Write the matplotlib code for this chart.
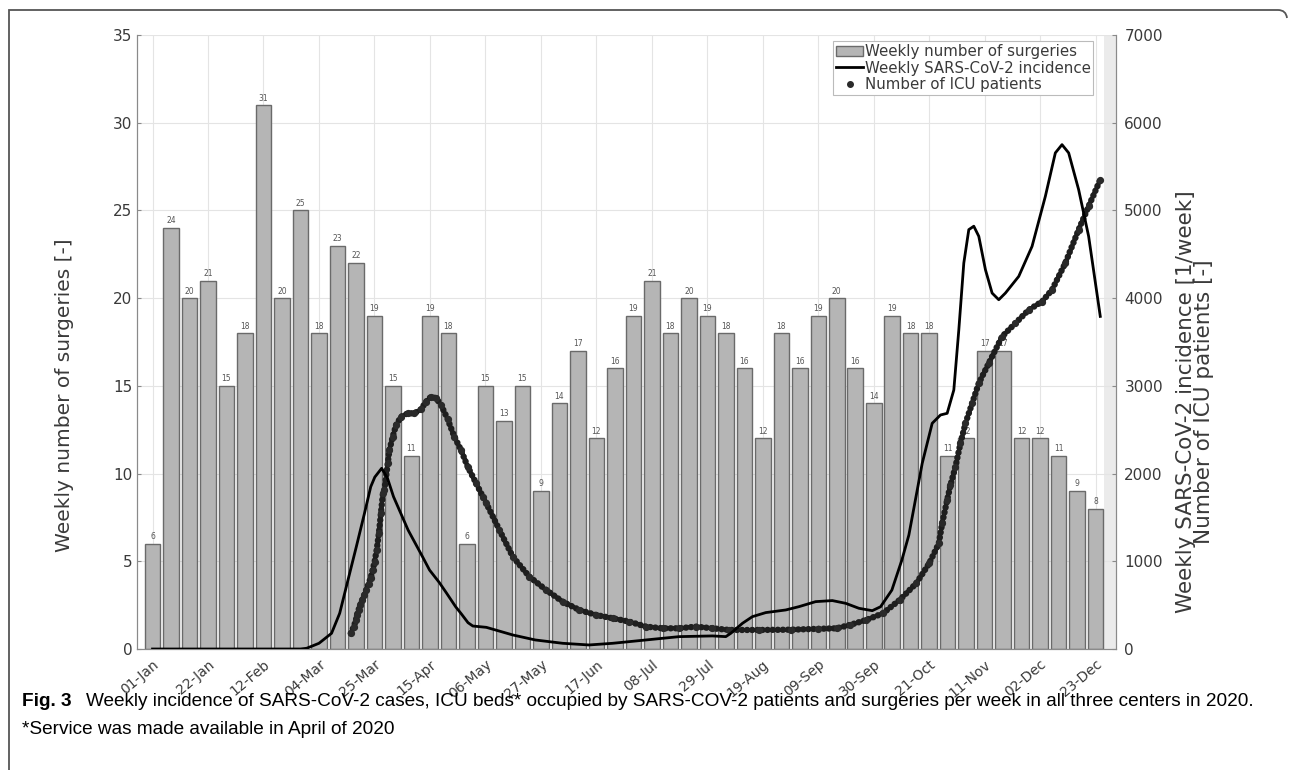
import numpy as np
import matplotlib.pyplot as plt
from matplotlib.patches import Patch, PathPatch
from matplotlib.lines import Line2D
from matplotlib.path import Path

# weekly surgeries, 52 weeks of 2020
surgeries = [6, 24, 20, 21, 15, 18, 31, 20, 25, 18, 23, 22, 19, 15, 11, 19, 18, 6,
             15, 13, 15, 9, 14, 17, 12, 16, 19, 21, 18, 20, 19, 18, 16, 12, 18, 16,
             19, 20, 16, 14, 19, 18, 18, 11, 12, 17, 17, 12, 12, 11, 9, 8]
tick_labels = ["01-Jan", "22-Jan", "12-Feb", "04-Mar", "25-Mar", "15-Apr", "06-May",
               "27-May", "17-Jun", "08-Jul", "29-Jul", "19-Aug", "09-Sep", "30-Sep",
               "21-Oct", "11-Nov", "02-Dec", "23-Dec"]

# weekly SARS-CoV-2 incidence (x in weeks)
inc_weeks = [0, 4, 8.0, 8.33, 9.0, 9.68, 10.12, 10.57, 11.02, 11.46, 11.8, 12.02, 12.39,
             12.7, 13.03, 13.82, 14.6, 14.98, 15.5, 15.89, 16.39, 16.7, 17.06, 17.32,
             18.05, 19.48, 20.7, 22.18, 23.6, 24.88, 26.68, 28.48, 30.28, 31.0, 31.27,
             31.9, 32.44, 33.16, 34.24, 34.96, 35.86, 36.76, 37.48, 38.2, 38.92, 39.37,
             39.98, 40.52, 40.9, 41.62, 42.16, 42.61, 42.97, 43.33, 43.6, 43.87, 44.14,
             44.41, 44.68, 45.04, 45.4, 45.76, 46.12, 46.84, 47.56, 48.28, 48.82, 49.18,
             49.54, 50.08, 50.62, 51.25]
inc_values = [0, 0, 0, 8, 65, 179, 407, 787, 1166, 1546, 1850, 1960, 2060,
              1950, 1737, 1356, 1052, 900, 760, 640, 482, 400, 300, 262,
              247, 160, 103, 65, 46, 65, 103, 141, 149, 141, 179,
              293, 369, 415, 445, 483, 540, 552, 521, 464, 437, 482,
              672, 1014, 1300, 2116, 2573, 2668, 2687, 2953, 3638, 4400, 4781,
              4820, 4705, 4324, 4058, 3982, 4058, 4248, 4590, 5161, 5656, 5750,
              5656, 5237, 4705, 3792]

# ICU patients
icu_weeks = [10.72, 10.88, 11.0, 11.05, 11.14, 11.23, 11.34, 11.45, 11.56, 11.68, 11.79,
             11.9, 12.01, 12.12, 12.24, 12.35, 12.46, 12.54, 12.72, 12.81, 12.99, 13.17,
             13.44, 13.8, 14.16, 14.52, 14.79, 15.06, 15.34, 15.6, 15.96, 16.32, 16.68,
             17.04, 17.5, 17.86, 18.05, 18.76, 19.48, 20.38, 21.29, 22.18, 23.08, 23.98,
             24.88, 25.78, 26.68, 27.58, 28.48, 29.38, 30.28, 31.18, 32.8, 34.5, 36.0,
             37.0, 37.7, 38.6, 39.5, 40.4, 41.3, 42.0, 42.52, 42.7, 42.97, 43.15, 43.42,
             43.69, 43.96, 44.32, 44.68, 45.22, 45.94, 46.66, 47.38, 48.1, 48.64, 49.36,
             50.08, 50.62, 51.25]
icu_values = [178, 254, 330, 388, 445, 502, 559, 616, 673, 741, 806,
              900, 995, 1129, 1319, 1547, 1775, 1813, 2117, 2269, 2420, 2554,
              2648, 2687, 2687, 2733, 2820, 2877, 2858, 2782, 2620, 2420, 2269,
              2079, 1889, 1737, 1661, 1356, 1052, 824, 672, 539, 445, 388,
              350, 312, 255, 236, 236, 255, 236, 217, 217, 220, 230,
              236, 274, 331, 407, 559, 749, 977, 1205, 1432, 1698, 1869, 2079,
              2345, 2573, 2801, 3030, 3258, 3562, 3714, 3866, 3961, 4095, 4400,
              4781, 5047, 5351]

weeks = np.arange(len(surgeries))

fig = plt.figure(figsize=(12.9, 7.72), dpi=100)
ax = fig.add_axes([137 / 1290, 1 - 649 / 772, (1116 - 137) / 1290, (649 - 35) / 772])
ax2 = ax.twinx()

tick_col = "#3a3a3a"
ax.axvspan(51.43, 52.1, color="#ebebeb", zorder=0, lw=0)
ax.bar(weeks, surgeries, width=0.84, color="#b5b5b5", edgecolor="#6a6a6a", linewidth=1.0, zorder=2)
for w, s in zip(weeks, surgeries):
    ax.text(w, s + 0.15, str(s), ha="center", va="bottom", fontsize=5.5, color="#555555", zorder=3)

ax.set_xlim(-0.84, 52.1)
ax.set_ylim(0, 35)
ax.set_yticks(np.arange(0, 36, 5))
ax.set_xticks(weeks[::3])
ax.set_xticklabels(tick_labels, rotation=40, ha="right", rotation_mode="anchor")
ax.grid(True, color="#e4e4e4", linewidth=0.8)
ax.set_axisbelow(True)

ax2.plot(inc_weeks, inc_values, color="black", linewidth=2.0, zorder=4)
ax2.plot(icu_weeks, icu_values, color="#1e1e1e", linestyle=(0, (0.05, 0.75)), linewidth=4.6,
         dash_capstyle="round", zorder=3)
ax2.plot(icu_weeks, icu_values, linestyle="none", marker="o", markersize=4.2,
         color="#2a2a2a", zorder=3)
ax2.set_ylim(0, 7000)
ax2.set_yticks(np.arange(0, 7001, 1000))

for a in (ax, ax2):
    a.spines["top"].set_visible(False)
    for side in ("left", "right", "bottom"):
        a.spines[side].set_color("#8a8a8a")
        a.spines[side].set_linewidth(0.8)
    a.tick_params(direction="in", length=3, width=0.8, colors="#8a8a8a",
                  labelcolor=tick_col, labelsize=11)
ax.tick_params(axis="x", pad=6, labelsize=10)
ax2.tick_params(axis="y", pad=6)

fig.text(65 / 1290, 1 - 395 / 772, "Weekly number of surgeries [-]", rotation=90,
         ha="center", va="center", fontsize=14.5, color=tick_col)
fig.text(1195 / 1290, 1 - 402 / 772, "Weekly SARS-CoV-2 incidence [1/week]\nNumber of ICU patients [-]",
         rotation=90, ha="center", va="center", fontsize=15.5, color=tick_col, linespacing=0.92,
         multialignment="center")

handles = [Patch(facecolor="#b5b5b5", edgecolor="#6a6a6a"),
           Line2D([], [], color="black", linewidth=2),
           Line2D([], [], color="#2a2a2a", linestyle="none", marker="o", markersize=4)]
labels = ["Weekly number of surgeries", "Weekly SARS-CoV-2 incidence", "Number of ICU patients"]
leg = ax2.legend(handles, labels, loc="upper right", bbox_to_anchor=(0.977, 0.99),
                 fontsize=10.8, handlelength=1.8, handletextpad=0.1, borderpad=0.2,
                 labelspacing=0.1, borderaxespad=0, fancybox=False, framealpha=1)
leg.get_frame().set_edgecolor("#bbbbbb")
leg.get_frame().set_linewidth(0.8)
for t in leg.get_texts():
    t.set_color(tick_col)

# caption frame
W, H = 1290, 772
def fx(x):
    return x / W
def fy(y):
    return 1 - y / H
top = Path([(fx(9), fy(770)), (fx(9), fy(10)), (fx(1278), fy(10)), (fx(1286), fy(10)), (fx(1287), fy(18))],
           [Path.MOVETO, Path.LINETO, Path.LINETO, Path.CURVE3, Path.CURVE3])
fig.patches.append(PathPatch(top, fill=False, edgecolor="#555555", linewidth=1.3, transform=fig.transFigure))

cap_font = ["Liberation Sans", "DejaVu Sans"]
fig.text(22 / W, fy(706), "Fig. 3", fontsize=13.7, fontweight="bold", family=cap_font, va="baseline")
fig.text(86 / W, fy(706), "Weekly incidence of SARS-CoV-2 cases, ICU beds* occupied by SARS-COV-2 patients "
         "and surgeries per week in all three centers in 2020.", fontsize=13.7, family=cap_font,
         va="baseline")
fig.text(22 / W, fy(734), "*Service was made available in April of 2020", fontsize=13.7,
         family=cap_font, va="baseline")

fig.savefig("out.png", dpi=100)
